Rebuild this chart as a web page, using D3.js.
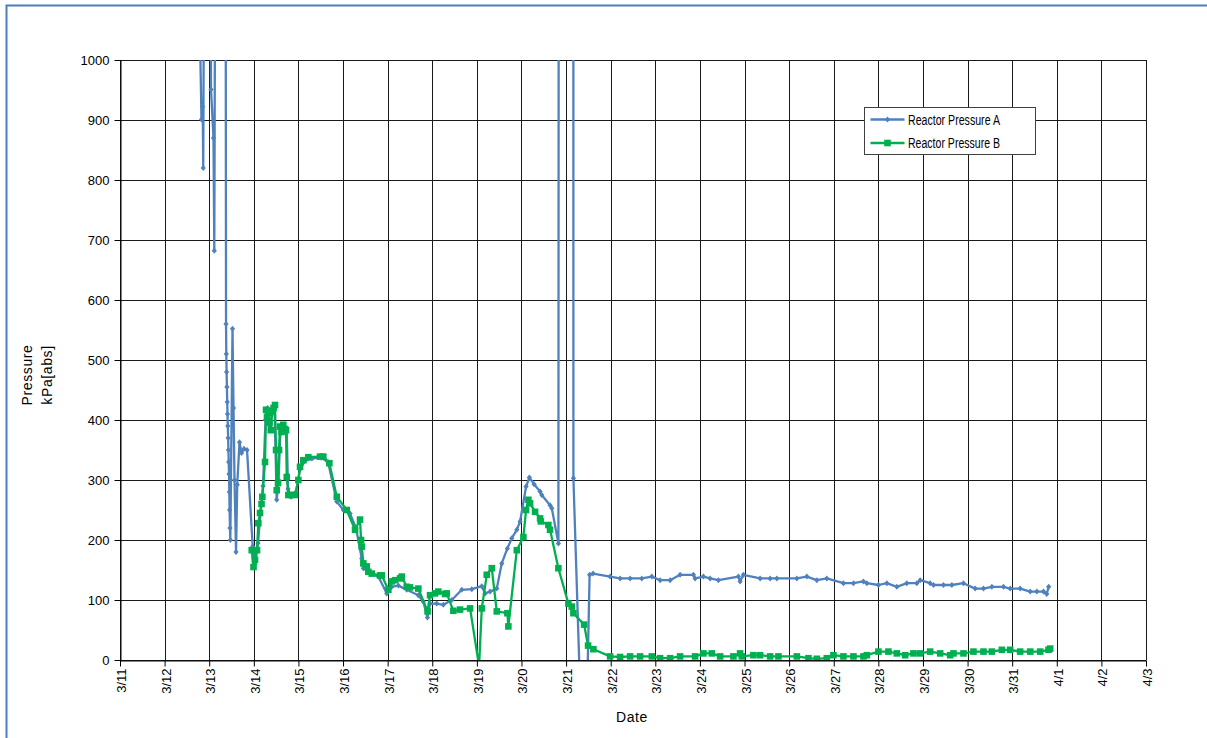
<!DOCTYPE html>
<html>
<head>
<meta charset="utf-8">
<script src="https://cdn.jsdelivr.net/npm/d3@7"></script>
<style>
  body { margin: 0; background: #fff; }
  text { font-family: "Liberation Sans", Arial, sans-serif; fill: #000; }
</style>
</head>
<body>
<svg id="chart" width="1207" height="738"></svg>
<script>
// times are day-of-March (32 = 4/1), values in kPa[abs]
const yTicks = [0, 100, 200, 300, 400, 500, 600, 700, 800, 900, 1000];
const seriesNames = ["Reactor Pressure A", "Reactor Pressure B"];

const timeA = [
  12.778, 12.827, 12.854, 12.866, 12.895, 13.029, 13.040, 13.096, 13.114, 13.141,
  13.366, 13.377, 13.383, 13.390, 13.397, 13.404, 13.410, 13.417, 13.424, 13.431,
  13.437, 13.444, 13.451, 13.457, 13.466, 13.473, 13.522, 13.545, 13.567, 13.601,
  13.628, 13.679, 13.724, 13.780, 13.848, 13.975,
  14.027, 14.094, 14.150, 14.206, 14.262, 14.307, 14.363, 14.419, 14.464, 14.513,
  14.554, 14.599, 14.655, 14.738, 14.767, 14.834, 14.946, 15.036, 15.148, 15.305,
  15.507, 15.664, 15.859, 16.007, 16.157, 16.291, 16.419, 16.455, 16.606, 16.792,
  16.980, 17.092, 17.240, 17.428, 17.688, 17.800, 17.892, 17.951, 18.101, 18.249,
  18.437, 18.661, 18.886, 19.110, 19.184, 19.296, 19.446, 19.558, 19.684, 19.783,
  19.895, 19.969, 20.103, 20.177, 20.283, 20.417, 20.455, 20.641, 20.680, 20.828,
  20.870, 21.157, 21.164, 21.336, 21.459, 21.527, 21.605,
  21.987, 22.211, 22.435, 22.697, 22.922, 23.108, 23.332, 23.556, 23.854, 23.892,
  24.078, 24.229, 24.415, 24.863, 24.901, 24.975, 25.350, 25.574, 25.724, 26.173,
  26.397, 26.621, 26.845, 27.217, 27.442, 27.666, 27.742, 28.002, 28.191, 28.415,
  28.639, 28.863, 28.937, 29.161, 29.236, 29.460, 29.648, 29.908, 30.170, 30.357,
  30.545, 30.805, 30.955, 31.179, 31.404, 31.554, 31.702, 31.774, 31.818
];
const pressureA = [
  1100, 901, 922, 820, 1400, 1400, 951, 870, 682, 1400,
  1400, 560, 510, 480, 455, 430, 410, 390, 370, 350,
  330, 310, 280, 250, 220, 200, 552, 420, 300, 180,
  292, 363, 345, 352, 350, 189,
  160, 195, 245, 290, 400, 420, 390, 412, 418, 267,
  300, 385, 380, 380, 285, 272, 280, 318, 332, 336,
  337, 330, 264, 250, 244, 220, 169, 153, 144, 139,
  111, 122, 124, 117, 108, 97, 71, 94, 94, 92,
  100, 117, 118, 123, 111, 114, 119, 161, 186, 203,
  217, 231, 289, 304, 293, 281, 275, 258, 253, 194,
  7000, 7000, 303, -100, -100, 142, 144,
  139, 136, 136, 136, 139, 133, 133, 142, 142, 136,
  139, 136, 133, 139, 131, 142, 136, 136, 136, 136,
  139, 133, 136, 128, 128, 131, 128, 125, 128, 122,
  128, 128, 133, 128, 125, 125, 125, 128, 119, 119,
  122, 122, 119, 119, 114, 114, 114, 110, 122
];

const timeB = [
  13.953, 13.993, 14.027, 14.072, 14.101, 14.139, 14.173, 14.191, 14.251, 14.274,
  14.296, 14.325, 14.352, 14.379, 14.408, 14.442, 14.475, 14.498, 14.513, 14.543,
  14.565, 14.587, 14.621, 14.661, 14.700, 14.722, 14.738, 14.774, 14.834, 14.924,
  14.998, 15.036, 15.110, 15.222, 15.484, 15.558, 15.693, 15.859, 16.083, 16.269,
  16.381, 16.404, 16.419, 16.455, 16.531, 16.567, 16.643, 16.830, 16.868, 17.016,
  17.092, 17.166, 17.278, 17.316, 17.428, 17.502, 17.688, 17.895, 17.951, 18.063,
  18.137, 18.287, 18.325, 18.473, 18.623, 18.848, 19.049, 19.110, 19.222, 19.334,
  19.446, 19.684, 19.706, 19.895, 20.043, 20.103, 20.155, 20.193, 20.305, 20.417,
  20.433, 20.603, 20.641, 20.827, 21.052, 21.128, 21.164, 21.404, 21.493, 21.612,
  21.987, 22.211, 22.435, 22.659, 22.922, 23.108, 23.332, 23.556, 23.892, 24.078,
  24.267, 24.453, 24.751, 24.901, 24.939, 25.199, 25.350, 25.574, 25.760, 26.173,
  26.433, 26.621, 26.845, 26.993, 27.217, 27.442, 27.666, 27.742, 28.002, 28.226,
  28.415, 28.601, 28.787, 28.937, 29.161, 29.386, 29.610, 29.684, 29.908, 30.132,
  30.357, 30.545, 30.769, 30.955, 31.179, 31.404, 31.628, 31.814, 31.852
];
const pressureB = [
  183, 155, 167, 183, 228, 245, 260, 272, 330, 417,
  405, 412, 395, 383, 415, 420, 425, 350, 283, 295,
  350, 389, 380, 392, 385, 383, 305, 275, 275, 275,
  300, 322, 333, 338, 339, 339, 328, 272, 250, 217,
  234, 200, 189, 161, 156, 147, 144, 141, 141, 117,
  131, 133, 136, 139, 122, 121, 119, 81, 108, 111,
  114, 110, 111, 82, 84, 86, -10, 86, 142, 153,
  81, 78, 56, 183, 205, 250, 267, 261, 247, 236,
  231, 225, 217, 153, 94, 89, 78, 59, 24, 18,
  6, 5, 6, 6, 6, 3, 3, 6, 6, 11,
  11, 6, 6, 11, 6, 8, 8, 6, 6, 6,
  3, 2, 3, 8, 6, 6, 6, 8, 14, 14,
  11, 8, 11, 11, 14, 11, 8, 11, 11, 14,
  14, 14, 17, 17, 14, 14, 14, 17, 19
];

const toDate = (t) => new Date(Date.UTC(2011, 2, 1) + (t - 1) * 86400000);

const margin = { top: 60, left: 120 },
  width = 1026,
  height = 600;

const svg = d3.select("#chart");

// outer chart frame (only top and left edges visible)
svg
  .append("path")
  .attr("d", "M6.5,738V5.5H1207")
  .attr("fill", "none")
  .attr("stroke", "#4a7ebb")
  .attr("stroke-width", 2);

const g = svg
  .append("g")
  .attr("transform", "translate(" + margin.left + "," + margin.top + ")");

const x = d3
  .scaleUtc()
  .domain([toDate(11), toDate(34)])
  .range([0, width]);

const y = d3.scaleLinear().domain([0, 1000]).range([height, 0]);

const days = d3.utcDay.range(toDate(11), toDate(34.5));

// gridlines
g.append("g")
  .selectAll("line")
  .data(yTicks)
  .enter()
  .append("line")
  .attr("x1", 0)
  .attr("x2", width)
  .attr("y1", (d) => Math.round(y(d)) + 0.5)
  .attr("y2", (d) => Math.round(y(d)) + 0.5)
  .attr("stroke", "#1a1a1a");

g.append("g")
  .selectAll("line")
  .data(days)
  .enter()
  .append("line")
  .attr("x1", (d) => Math.round(x(d)) + 0.5)
  .attr("x2", (d) => Math.round(x(d)) + 0.5)
  .attr("y1", 0)
  .attr("y2", height)
  .attr("stroke", "#1a1a1a");

// axes
const yAxis = g
  .append("g")
  .attr("transform", "translate(0.5,0)")
  .call(
    d3
      .axisLeft(y)
      .tickValues(yTicks)
      .tickSize(6)
      .tickPadding(5)
      .tickSizeOuter(0)
      .tickFormat(d3.format("d"))
  );

yAxis.select(".domain").attr("stroke", "#000");
yAxis.selectAll(".tick line").attr("stroke", "#000");
yAxis.selectAll("text").style("font-size", "13px").attr("fill", "#000");

const xAxis = g
  .append("g")
  .attr("transform", "translate(0," + (height + 0.5) + ")")
  .call(
    d3
      .axisBottom(x)
      .tickValues(days)
      .tickSize(6)
      .tickSizeOuter(0)
      .tickFormat(d3.utcFormat("%-m/%-d"))
  );

xAxis.select(".domain").attr("stroke", "#000");
xAxis.selectAll(".tick line").attr("stroke", "#000");
xAxis
  .selectAll("text")
  .style("font-size", "13px")
  .attr("fill", "#000")
  .attr("text-anchor", "end")
  .attr("dy", null)
  .attr("y", 0)
  .attr("transform", "translate(5.5,8) rotate(-90)");

// axis titles
svg
  .append("text")
  .attr("x", 632)
  .attr("y", 722)
  .attr("text-anchor", "middle")
  .style("font-size", "14px")
  .style("letter-spacing", "0.6px")
  .text("Date");

svg
  .append("text")
  .attr("transform", "translate(32,375) rotate(-90)")
  .attr("text-anchor", "middle")
  .style("font-size", "14px")
  .style("letter-spacing", "0.6px")
  .text("Pressure");

svg
  .append("text")
  .attr("transform", "translate(52,375) rotate(-90)")
  .attr("text-anchor", "middle")
  .style("font-size", "14px")
  .style("letter-spacing", "0.6px")
  .text("kPa[abs]");

// plot area clip
g.append("defs")
  .append("clipPath")
  .attr("id", "clip")
  .append("rect")
  .attr("x", 0)
  .attr("y", 0)
  .attr("width", width)
  .attr("height", height);

const area = g.append("g").attr("clip-path", "url(#clip)");

const series = [
  {
    name: seriesNames[0],
    color: "#4f81bd",
    shape: "diamond",
    values: timeA.map((t, i) => [toDate(t), pressureA[i]]),
  },
  {
    name: seriesNames[1],
    color: "#00b050",
    shape: "square",
    values: timeB.map((t, i) => [toDate(t), pressureB[i]]),
  },
];

const line = d3
  .line()
  .x((d) => x(d[0]))
  .y((d) => y(d[1]));

const markerPath = (shape) =>
  shape === "square" ? "M-3.3,-3.3H3.3V3.3H-3.3Z" : "M0,-3L2.6,0L0,3L-2.6,0Z";

series.forEach((s) => {
  area
    .append("path")
    .attr("d", line(s.values))
    .attr("fill", "none")
    .attr("stroke", s.color)
    .attr("stroke-width", 2.3)
    .attr("stroke-linejoin", "round");

  area
    .selectAll(".m_" + s.shape)
    .data(s.values.filter((d) => d[1] >= 0 && d[1] <= 1000))
    .enter()
    .append("path")
    .attr("class", "m_" + s.shape)
    .attr("transform", (d) => "translate(" + x(d[0]) + "," + y(d[1]) + ")")
    .attr("d", markerPath(s.shape))
    .attr("fill", s.color);
});

// legend
const legend = svg.append("g").attr("transform", "translate(864.5,107.5)");

legend
  .append("rect")
  .attr("width", 171)
  .attr("height", 47)
  .attr("fill", "#fff")
  .attr("stroke", "#404040");

series.forEach((s, i) => {
  const ly = 12 + i * 23.5;
  legend
    .append("line")
    .attr("x1", 6)
    .attr("x2", 40)
    .attr("y1", ly)
    .attr("y2", ly)
    .attr("stroke", s.color)
    .attr("stroke-width", 2.3);
  legend
    .append("path")
    .attr("transform", "translate(23," + ly + ")")
    .attr("d", markerPath(s.shape))
    .attr("fill", s.color);
  legend
    .append("text")
    .attr("x", 43.5)
    .attr("y", ly + 5)
    .style("font-size", "14px")
    .attr("textLength", 92)
    .attr("lengthAdjust", "spacingAndGlyphs")
    .text(s.name);
});
</script>
</body>
</html>
